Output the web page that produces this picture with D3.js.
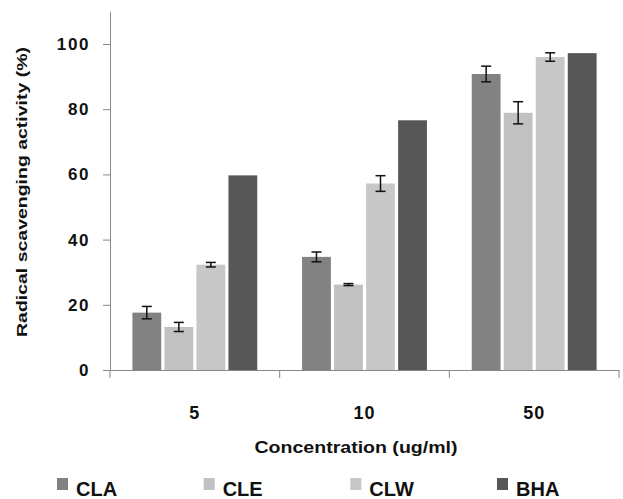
<!DOCTYPE html>
<html>
<head>
<meta charset="utf-8">
<script src="https://cdn.jsdelivr.net/npm/d3@7"></script>
<style>
  body { margin: 0; background: #fff; }
  svg text { font-family: "Liberation Sans", Arial, sans-serif; font-weight: bold; fill: #111; }
</style>
</head>
<body>
<div id="chart"></div>
<script>
// concentrations (ug/ml) on the x axis
var categories = ["5", "10", "50"];
var seriesNames = ["CLA", "CLE", "CLW", "BHA"];

// radical scavenging activity (%) per concentration
var cla = [17.6, 34.7, 90.8];
var cle = [13.2, 26.2, 78.9];
var clw = [32.3, 57.2, 96.0];
var bha = [59.7, 76.6, 97.2];

// +/- error, BHA has none
var claErr = [1.9, 1.5, 2.4];
var cleErr = [1.4, 0.3, 3.4];
var clwErr = [0.7, 2.4, 1.3];
var bhaErr = [0, 0, 0];

var yTicks = [0, 20, 40, 60, 80, 100];

var values = {CLA: cla, CLE: cle, CLW: clw, BHA: bha};
var errors = {CLA: claErr, CLE: cleErr, CLW: clwErr, BHA: bhaErr};

var width = 623, height = 499;
var margin = {top: 11.4, right: 4, bottom: 129, left: 110};

var svg = d3.select("#chart").append("svg")
    .attr("width", width)
    .attr("height", height);

var x0 = d3.scaleBand()
    .domain(categories)
    .range([margin.left, width - margin.right])
    .paddingInner(0).paddingOuter(0);

var x1 = d3.scaleBand()
    .domain(seriesNames)
    .range([0, x0.bandwidth()])
    .paddingInner(0.1)
    .paddingOuter(0.7);

var y = d3.scaleLinear()
    .domain([0, 110])
    .range([height - margin.bottom, margin.top]);

var color = d3.scaleOrdinal()
    .domain(seriesNames)
    .range(["#828282", "#c1c1c1", "#c7c7c7", "#575757"]);

// y axis
var yAxis = svg.append("g")
    .attr("transform", "translate(" + margin.left + ",0)")
    .call(d3.axisLeft(y).tickValues(yTicks).tickSize(7).tickPadding(13).tickSizeOuter(0));
yAxis.select(".domain").attr("stroke", "#888");
yAxis.selectAll(".tick line").attr("stroke", "#888");
yAxis.selectAll(".tick text")
    .style("font-size", "17px")
    .style("letter-spacing", "1.6px")
    .attr("fill", "#111");

// x axis: labels at centres, ticks on group borders
var xAxis = svg.append("g")
    .attr("transform", "translate(0," + y(0) + ")")
    .call(d3.axisBottom(x0).tickSize(0).tickPadding(36).tickSizeOuter(0));
xAxis.select(".domain").attr("stroke", "#888");
xAxis.selectAll(".tick text")
    .style("font-size", "18px")
    .style("letter-spacing", "1px")
    .attr("fill", "#111");

var borders = categories.map(function (c) { return x0(c); });
borders.push(x0.range()[1]);
xAxis.selectAll(".border")
    .data(borders)
    .enter().append("line")
    .attr("class", "border")
    .attr("x1", function (d) { return d; })
    .attr("x2", function (d) { return d; })
    .attr("y1", 0)
    .attr("y2", 8)
    .attr("stroke", "#888");

// bars
var rows = categories.map(function (c, i) {
    return {
        cat: c,
        items: seriesNames.map(function (s) {
            return {name: s, value: values[s][i], err: errors[s][i]};
        })
    };
});

var groups = svg.selectAll(".grp")
    .data(rows)
    .enter().append("g")
    .attr("class", "grp")
    .attr("transform", function (d) { return "translate(" + x0(d.cat) + ",0)"; });

groups.selectAll("rect")
    .data(function (d) { return d.items; })
    .enter().append("rect")
    .attr("x", function (d) { return x1(d.name); })
    .attr("y", function (d) { return y(d.value); })
    .attr("width", x1.bandwidth())
    .attr("height", function (d) { return y(0) - y(d.value); })
    .attr("fill", function (d) { return color(d.name); });

// error bars
var eb = groups.selectAll(".err")
    .data(function (d) { return d.items.filter(function (e) { return e.err > 0; }); })
    .enter().append("g")
    .attr("class", "err")
    .attr("stroke", "#111")
    .attr("stroke-width", 1.5);

eb.append("line")
    .attr("x1", function (d) { return x1(d.name) + x1.bandwidth() / 2; })
    .attr("x2", function (d) { return x1(d.name) + x1.bandwidth() / 2; })
    .attr("y1", function (d) { return y(d.value + d.err); })
    .attr("y2", function (d) { return y(d.value - d.err); });
[1, -1].forEach(function (sgn) {
    eb.append("line")
        .attr("x1", function (d) { return x1(d.name) + x1.bandwidth() / 2 - 5; })
        .attr("x2", function (d) { return x1(d.name) + x1.bandwidth() / 2 + 5; })
        .attr("y1", function (d) { return y(d.value + sgn * d.err); })
        .attr("y2", function (d) { return y(d.value + sgn * d.err); });
});

// axis titles
svg.append("text")
    .attr("x", 356)
    .attr("y", 453)
    .attr("text-anchor", "middle")
    .attr("textLength", 203)
    .attr("lengthAdjust", "spacingAndGlyphs")
    .style("font-size", "16px")
    .text("Concentration (ug/ml)");

svg.append("text")
    .attr("transform", "translate(27,192) rotate(-90)")
    .attr("text-anchor", "middle")
    .attr("textLength", 290)
    .attr("lengthAdjust", "spacingAndGlyphs")
    .style("font-size", "15px")
    .text("Radical scavenging activity (%)");

// legend
var legendX = d3.scalePoint()
    .domain(seriesNames)
    .range([57, 497]);

var legend = svg.selectAll(".legend")
    .data(seriesNames)
    .enter().append("g")
    .attr("class", "legend")
    .attr("transform", function (d) { return "translate(" + legendX(d) + ",478)"; });

legend.append("rect")
    .attr("width", 11)
    .attr("height", 12)
    .attr("fill", function (d) { return color(d); });

legend.append("text")
    .attr("x", 19)
    .attr("y", 18)
    .style("font-size", "20px")
    .text(function (d) { return d; });
</script>
</body>
</html>
